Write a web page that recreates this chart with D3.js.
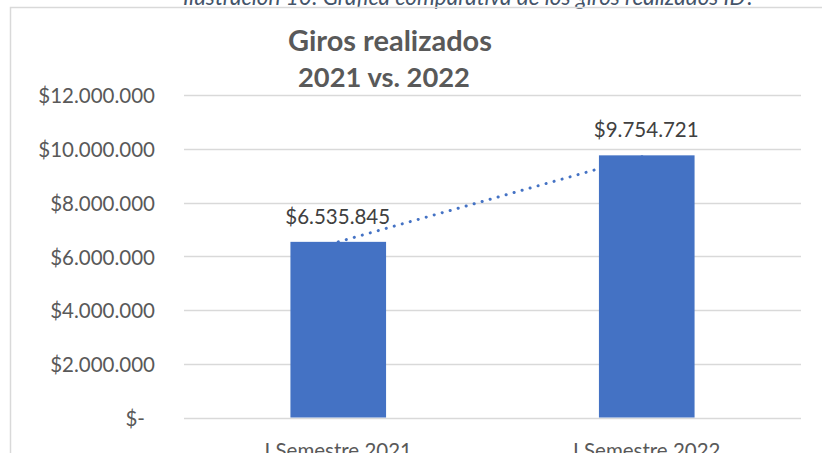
<!DOCTYPE html>
<html>
<head>
<meta charset="utf-8">
<script src="https://cdn.jsdelivr.net/npm/d3@7"></script>
<style>
    body { margin: 0; background: #fff; }
    svg { display: block; font-family: Lato, "Open Sans", sans-serif; }
</style>
</head>
<body>
<svg id="chart" width="822" height="453"></svg>
<script>
// chart data
var categories = ["I Semestre 2021", "I Semestre 2022"];
var values = [6535845, 9754721];
var yTicks = [0, 2000000, 4000000, 6000000, 8000000, 10000000, 12000000];
var titleLines = ["Giros realizados", "2021 vs. 2022"];
var caption = "Ilustración 10: Gráfica comparativa de los giros realizados ID?";

var svg = d3.select("#chart");

// shrink/grow a text node until it spans the wanted width
function fitWidth(sel, target) {
    var node = sel.node();
    var size = parseFloat(sel.attr("font-size"));
    var len = node.getComputedTextLength();
    sel.attr("font-size", (size * target / len).toFixed(2));
}

// money format used by the sheet: $12.000.000, zero shown as "$-"
function money(v) {
    if (v === 0) return "$-";
    return "$" + d3.format(",")(v).replace(/,/g, ".");
}

// caption of the document, cut off at the top of the picture
var cap = svg.append("text")
    .attr("x", 469)
    .attr("y", 5)
    .attr("text-anchor", "middle")
    .attr("font-style", "italic")
    .attr("font-size", 18)
    .attr("fill", "#44546A")
    .text(caption);
fitWidth(cap, 572);

// chart frame
svg.append("path")
    .attr("d", "M10.5,460 V7.5 H830")
    .attr("fill", "none")
    .attr("stroke", "#d9d9d9")
    .attr("stroke-width", 1.5);

var plot = { left: 184, right: 801, top: 95, bottom: 417.5 };

var x = d3.scaleBand()
    .domain(categories)
    .range([plot.left, plot.right])
    .paddingInner(0.69)
    .paddingOuter(0.345);

var y = d3.scaleLinear()
    .domain([0, 12000000])
    .range([plot.bottom, plot.top]);

// gridlines
svg.append("g")
    .selectAll("line")
    .data(yTicks)
    .enter().append("line")
    .attr("x1", plot.left)
    .attr("x2", plot.right)
    .attr("y1", function (d) { return Math.round(y(d)) + 0.5; })
    .attr("y2", function (d) { return Math.round(y(d)) + 0.5; })
    .attr("stroke", "#d9d9d9")
    .attr("stroke-width", 1.5);

// y axis labels
var yAxis = svg.append("g")
    .attr("transform", "translate(" + plot.left + ",0)")
    .call(d3.axisLeft(y).tickValues(yTicks).tickFormat(money).tickSize(0).tickPadding(29));
yAxis.select(".domain").remove();
yAxis.selectAll("text")
    .attr("font-family", "Lato, sans-serif")
    .attr("font-size", 20.5)
    .attr("fill", "#595959")
    .attr("dy", "0.38em")
    .attr("x", function (d) { return d === 0 ? -39 : -29; });

// trend line between the two values (drawn under the bars)
var trend = values.map(function (v, i) {
    return [x(categories[i]) + x.bandwidth() / 2, y(v)];
});
svg.append("path")
    .attr("d", d3.line()(trend))
    .attr("fill", "none")
    .attr("stroke", "#4472C4")
    .attr("stroke-width", 3)
    .attr("stroke-linecap", "round")
    .attr("stroke-dasharray", "0.1 8.2");

// bars
svg.append("g")
    .selectAll("rect")
    .data(values)
    .enter().append("rect")
    .attr("x", function (d, i) { return x(categories[i]); })
    .attr("y", function (d) { return y(d); })
    .attr("width", x.bandwidth())
    .attr("height", function (d) { return y(0) - y(d); })
    .attr("fill", "#4472C4");

// value labels
svg.append("g")
    .selectAll("text")
    .data(values)
    .enter().append("text")
    .attr("x", function (d, i) { return x(categories[i]) + x.bandwidth() / 2 - 0.5; })
    .attr("y", function (d) { return y(d) - 18; })
    .attr("text-anchor", "middle")
    .attr("font-size", 20.5)
    .attr("fill", "#404040")
    .text(money);

// category axis
var xAxis = svg.append("g")
    .attr("transform", "translate(0," + plot.bottom + ")")
    .call(d3.axisBottom(x).tickSize(0).tickPadding(26));
xAxis.select(".domain").remove();
xAxis.selectAll("text")
    .attr("font-family", "Lato, sans-serif")
    .attr("font-size", 20.5)
    .attr("fill", "#595959")
    .attr("dy", "0.71em");

// title
var t1 = svg.append("text")
    .attr("x", 390)
    .attr("y", 51)
    .attr("text-anchor", "middle")
    .attr("font-weight", "bold")
    .attr("font-size", 26)
    .attr("fill", "#595959")
    .text(titleLines[0]);
fitWidth(t1, 204);
var t2 = svg.append("text")
    .attr("x", 384)
    .attr("y", 87)
    .attr("text-anchor", "middle")
    .attr("font-weight", "bold")
    .attr("font-size", 26)
    .attr("fill", "#595959")
    .text(titleLines[1]);
fitWidth(t2, 172);
</script>
</body>
</html>
